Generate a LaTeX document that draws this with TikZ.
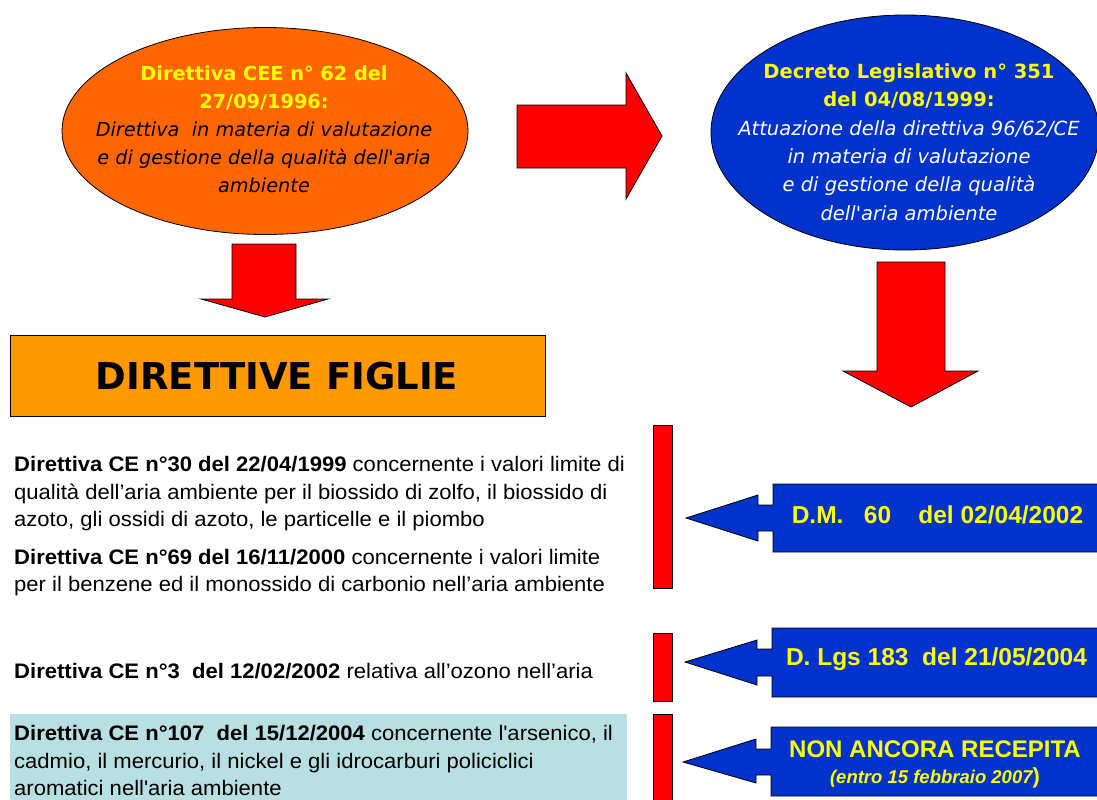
\documentclass[tikz,border=0pt]{standalone}
\usepackage{fontspec}
\setmainfont{Liberation Sans}
\newfontfamily\tah{DejaVu Sans}
\newfontfamily\arialw[FakeStretch=1.05]{Liberation Sans}
\usetikzlibrary{shapes.geometric}
\definecolor{eorange}{HTML}{FF6600}
\definecolor{borange}{HTML}{FF9900}
\definecolor{eblue}{HTML}{0033CC}
\definecolor{ayellow}{HTML}{FFFF00}
\definecolor{lblue}{HTML}{B8DFE1}
\newcommand{\yb}[1]{\textbf{\textcolor{ayellow}{#1}}}
\tikzset{
  redshape/.style={draw=black, line width=0.8pt, fill=red, line join=miter},
  blueshape/.style={draw=black, line width=0.8pt, fill=eblue, line join=miter},
  bubble/.style={ellipse, draw=black, line width=0.8pt, inner sep=0pt},
  etext/.style={align=center, inner sep=0pt, font=\tah\fontsize{19.3}{28}\selectfont},
  ltext/.style={align=left, inner sep=0pt, anchor=base west, font=\arialw\fontsize{21}{27.5}\selectfont},
  btext/.style={align=center, inner sep=0pt, text=ayellow, font=\bfseries\fontsize{24.5}{30}\selectfont}
}
\begin{document}
\begin{tikzpicture}[x=1pt,y=-1pt]
\useasboundingbox (0,0) rectangle (1097,800);
\fill[white] (0,0) rectangle (1097,800);

% orange ellipse
\node[bubble, fill=eorange, minimum width=406pt, minimum height=207pt] (cee) at (265,131) {};
\node[etext] (ceetxt) at (264,129) {\yb{Direttiva CEE n° 62 del}\\\yb{27/09/1996:}\\
  \textit{Direttiva\ \ in materia di valutazione}\\\textit{e di gestione della qualità dell\textquotesingle aria}\\\textit{ambiente}};

% blue ellipse
\node[bubble, fill=eblue, minimum width=388pt, minimum height=235pt] (dlgs) at (905,132.5) {};
\node[etext, text=white, font=\tah\fontsize{19.5}{28.3}\selectfont] (dlgstxt) at (909,142) {\yb{Decreto Legislativo n° 351}\\\yb{del 04/08/1999:}\\
  \textit{Attuazione della direttiva 96/62/CE}\\\textit{in materia di valutazione}\\\textit{e di gestione della qualità}\\\textit{dell\textquotesingle aria ambiente}};

% right red arrow
\draw[redshape] (517,105) -- (626,105) -- (626,73) -- (662,136) -- (626,199) -- (626,168) -- (517,168) -- cycle;
% left down arrow
\draw[redshape] (232,244) -- (296,244) -- (296,299) -- (328,299) -- (265,317) -- (201,299) -- (232,299) -- cycle;
% right down arrow
\draw[redshape] (877,262) -- (945,262) -- (945,371) -- (978,371) -- (911,407) -- (843,371) -- (877,371) -- cycle;

% DIRETTIVE FIGLIE
\node[draw=black, line width=0.8pt, fill=borange, minimum width=535pt, minimum height=81pt, inner sep=0pt] (figlie) at (277.5,375.5) {};
\node[inner sep=0pt, font=\tah\bfseries\fontsize{37}{40}\selectfont] (figlietxt) at (277,376) {DIRETTIVE FIGLIE};

% light blue background for last directive
\fill[lblue] (10,714) rectangle (627,805);

% directive texts (anchor = baseline of last line)
\node[ltext] (d30) at (14,526.7) {\textbf{Direttiva CE n°30 del 22/04/1999} concernente i valori limite di\\
  qualità dell’aria ambiente per il biossido di zolfo, il biossido di\\
  azoto, gli ossidi di azoto, le particelle e il piombo};
\node[ltext] (d69) at (14,591.5) {\textbf{Direttiva CE n°69 del 16/11/2000} concernente i valori limite\\
  per il benzene ed il monossido di carbonio nell’aria ambiente};
\node[ltext] (d3) at (14,678) {\textbf{Direttiva CE n°3\ \ del 12/02/2002} relativa all’ozono nell’aria};
\node[ltext] (d107) at (14,795.5) {\textbf{Direttiva CE n°107\ \ del 15/12/2004} concernente l\textquotesingle arsenico, il\\
  cadmio, il mercurio, il nickel e gli idrocarburi policiclici\\
  aromatici nell\textquotesingle aria ambiente};

% red bars
\draw[redshape] (653,425) rectangle (672,588);
\draw[redshape] (653,633) rectangle (672,701);
\draw[redshape] (653,714) rectangle (672,806);

% blue callout arrows
\draw[blueshape] (773,484) -- (1102,484) -- (1102,552) -- (773,552) -- (773,531) -- (758,531) -- (758,541) -- (686,518) -- (758,495) -- (758,505) -- (773,505) -- cycle;
\draw[blueshape] (772,628) -- (1102,628) -- (1102,697) -- (772,697) -- (772,676) -- (757,676) -- (757,685) -- (685,662) -- (757,640) -- (757,649) -- (772,649) -- cycle;
\draw[blueshape] (771,727) -- (1102,727) -- (1102,796) -- (771,796) -- (771,775) -- (756,775) -- (756,783) -- (683,762) -- (756,739) -- (756,749) -- (771,749) -- cycle;

\node[btext] (dm60) at (937.5,515) {D.M.\ \ \ 60\ \ \ \ del 02/04/2002};
\node[btext] (dlgs183) at (936.5,659) {D.\ Lgs 183\ \ del 21/05/2004};
\node[btext, font=\bfseries\fontsize{24}{30}\selectfont] (nonrec) at (935,749) {NON ANCORA RECEPITA};
\node[inner sep=0pt, text=ayellow] (entro) at (935,778) {{\bfseries\itshape\fontsize{18.5}{20}\selectfont (entro 15 febbraio 2007}{\bfseries\fontsize{22}{20}\selectfont )}};
\end{tikzpicture}
\end{document}
